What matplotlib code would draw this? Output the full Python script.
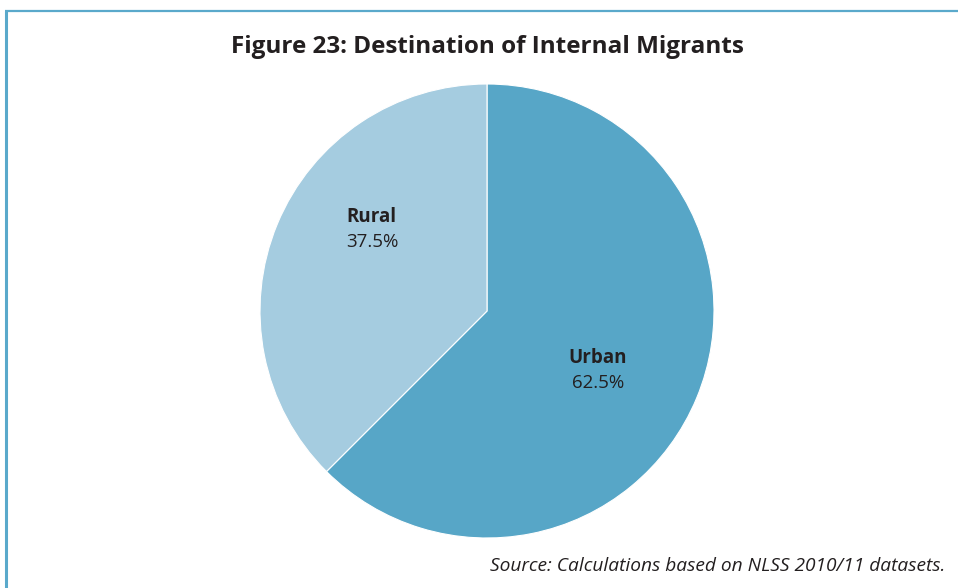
import matplotlib.pyplot as plt
from matplotlib.lines import Line2D

categories = ['Urban', 'Rural']
shares = [62.5, 37.5]
colors = ['#57a6c7', '#a5cce0']

plt.rcParams['font.family'] = ['Open Sans', 'DejaVu Sans']

fig = plt.figure(figsize=(9.58, 5.88), dpi=100)

# frame lines on the left and top
fig.add_artist(Line2D([5.5 / 958, 5.5 / 958], [0, 1 - 10.5 / 588], color='#5aa9cb', lw=2.2,
                      transform=fig.transFigure, solid_capstyle='butt'))
fig.add_artist(Line2D([4.5 / 958, 1], [1 - 10.5 / 588, 1 - 10.5 / 588], color='#5aa9cb', lw=1.6,
                      transform=fig.transFigure, solid_capstyle='butt'))

fig.text(487 / 958, 1 - 47 / 588, 'Figure 23: Destination of Internal Migrants',
         ha='center', va='center', fontsize=17.5, fontweight='bold', color='#231f20')

cx, cy, r = 487, 311, 227
ax = fig.add_axes([(cx - r) / 958, (588 - cy - r) / 588, 2 * r / 958, 2 * r / 588])
wedges, _ = ax.pie(shares, colors=colors, startangle=90, counterclock=False,
                   wedgeprops=dict(linewidth=0.8, edgecolor='white'))
ax.set_xlim(-1, 1)
ax.set_ylim(-1, 1)
ax.set_aspect('auto')
ax.axis('off')

# label anchors in pie units (name above, percentage below)
label_pos = {'Urban': (0.489, -0.262), 'Rural': (-0.507, 0.36)}
for name, val in zip(categories, shares):
    x, y = label_pos[name]
    ax.text(x, y + 0.054, name, ha='center', va='center', fontsize=13.5,
            fontweight='bold', color='#231f20')
    ax.text(x, y - 0.054, f'{val}%', ha='center', va='center', fontsize=13.5,
            color='#231f20')

fig.text(945 / 958, 1 - 566 / 588, 'Source: Calculations based on NLSS 2010/11 datasets.',
         ha='right', va='center', fontsize=13.8, style='italic', color='#231f20')

fig.savefig('out.png', dpi=100, facecolor='white')
